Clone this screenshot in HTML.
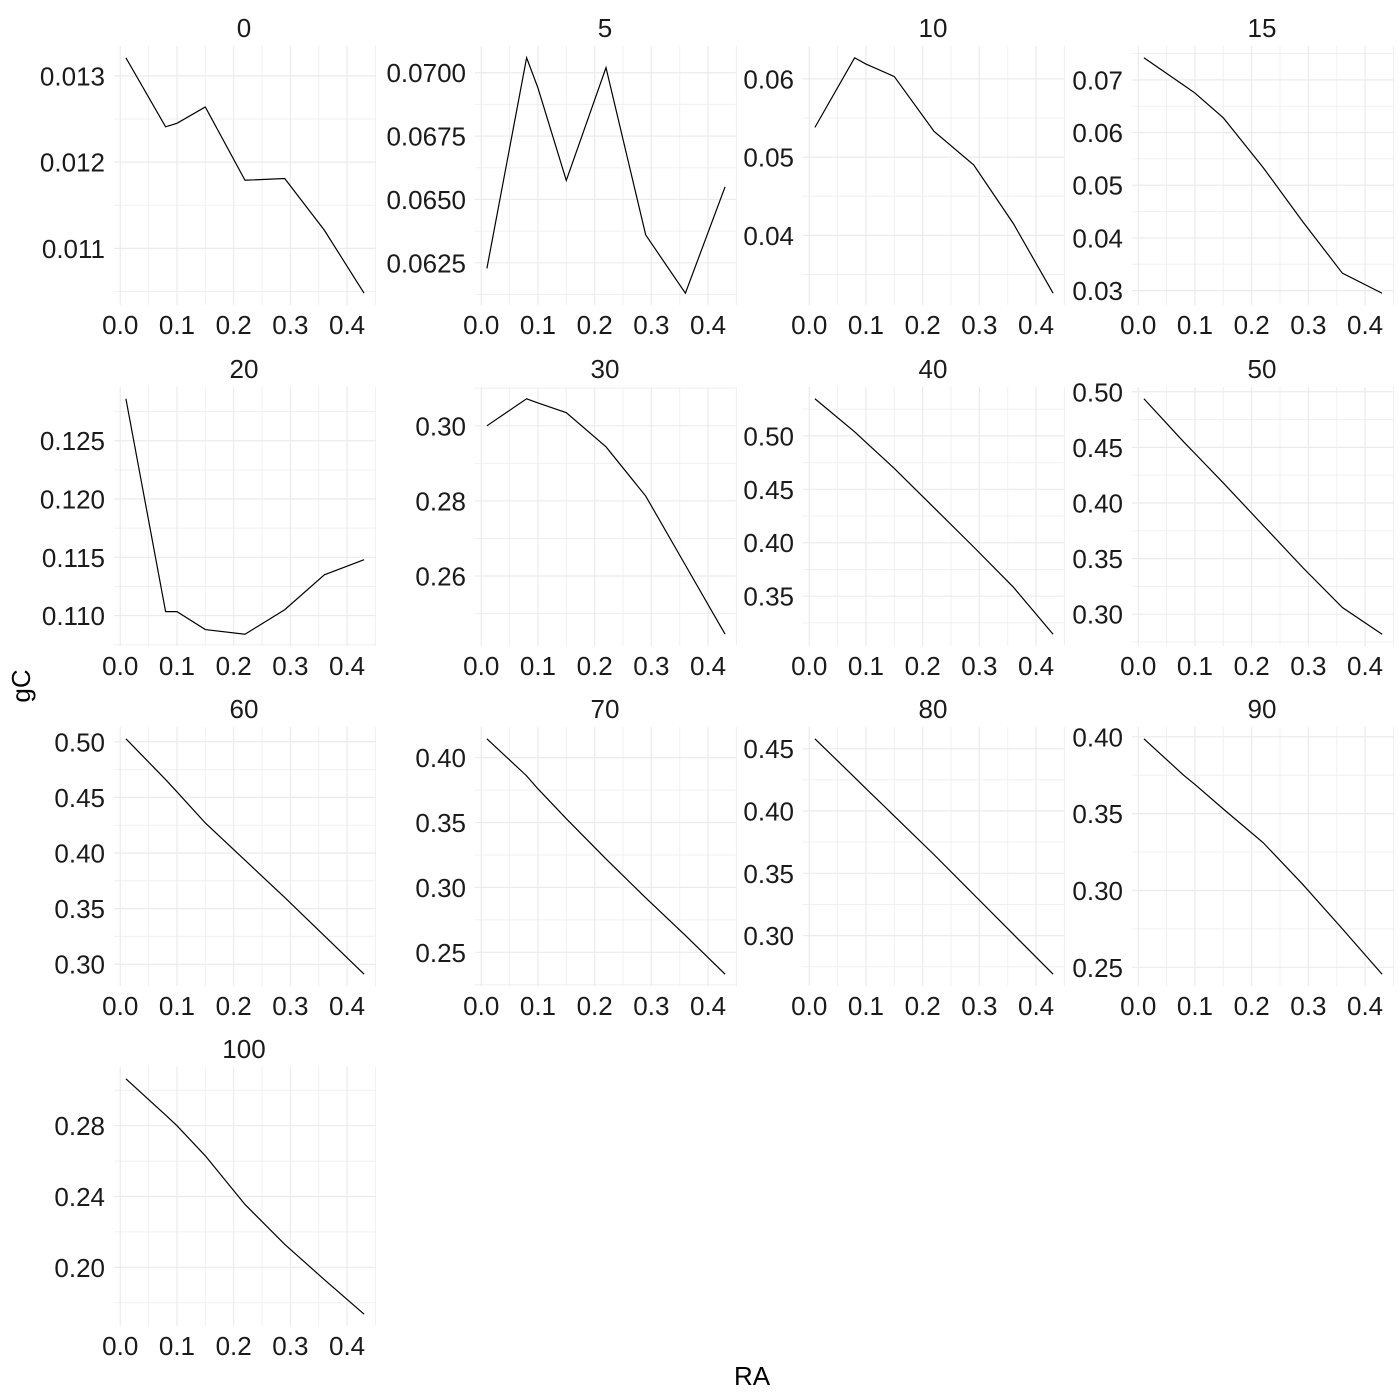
<!DOCTYPE html>
<html><head><meta charset="utf-8"><style>
body{margin:0;background:#fff}
svg{display:block;font-family:"Liberation Sans",sans-serif}
</style></head><body>
<svg id="chart" width="1400" height="1400" xmlns="http://www.w3.org/2000/svg">
<text x="752" y="1385" font-size="26" text-anchor="middle" fill="#000">RA</text>
<text transform="translate(30,686) rotate(-90)" font-size="26" text-anchor="middle" fill="#000">gC</text>
</svg>
<script>
const raValues = [0.01,0.08,0.10,0.15,0.22,0.29,0.36,0.43];
const facetLabels = ["0","5","10","15","20","30","40","50","60","70","80","90","100"];
const gc0 = [0.01321,0.01241,0.01245,0.01264,0.01179,0.01181,0.01121,0.01048];
const gc5 = [0.06228,0.07059,0.0694,0.06575,0.0702,0.0636,0.0613,0.0655];
const gc10 = [0.0538,0.0627,0.0619,0.0603,0.0533,0.0490,0.0415,0.0326];
const gc15 = [0.0742,0.0690,0.0675,0.0628,0.0534,0.0431,0.0333,0.0295];
const gc20 = [0.1286,0.11034,0.11034,0.1088,0.1084,0.1105,0.1135,0.1148];
const gc30 = [0.300,0.3072,0.3061,0.3035,0.2944,0.2813,0.2629,0.2445];
const gc40 = [0.5347,0.5038,0.494,0.4695,0.4328,0.396,0.3584,0.3144];
const gc50 = [0.4937,0.455,0.4445,0.418,0.380,0.342,0.306,0.282];
const gc60 = [0.5027,0.466,0.455,0.427,0.3935,0.360,0.3255,0.291];
const gc70 = [0.4146,0.386,0.376,0.353,0.322,0.292,0.263,0.2331];
const gc80 = [0.458,0.427,0.418,0.396,0.365,0.333,0.301,0.269];
const gc90 = [0.3987,0.375,0.369,0.353,0.3312,0.304,0.275,0.2455];
const gc100 = [0.3065,0.286,0.280,0.263,0.2355,0.213,0.193,0.1735];
const seriesList = [gc0,gc5,gc10,gc15,gc20,gc30,gc40,gc50,gc60,gc70,gc80,gc90,gc100];
const yTicks = [
 ["0.011","0.012","0.013"],
 ["0.0625","0.0650","0.0675","0.0700"],
 ["0.04","0.05","0.06"],
 ["0.03","0.04","0.05","0.06","0.07"],
 ["0.110","0.115","0.120","0.125"],
 ["0.26","0.28","0.30"],
 ["0.35","0.40","0.45","0.50"],
 ["0.30","0.35","0.40","0.45","0.50"],
 ["0.30","0.35","0.40","0.45","0.50"],
 ["0.25","0.30","0.35","0.40"],
 ["0.30","0.35","0.40","0.45"],
 ["0.25","0.30","0.35","0.40"],
 ["0.20","0.24","0.28"]
];
const xTicks = ["0.0","0.1","0.2","0.3","0.4"];

const svg = document.getElementById('chart');
const NS = "http://www.w3.org/2000/svg";
const colLeft = [114,475,803,1132];
const rowTop = [46,387,727,1067];
const PW = 262, PH = 259;
function mk(tag, attrs, parent){
  const e = document.createElementNS(NS, tag);
  for (const k in attrs) e.setAttribute(k, attrs[k]);
  parent.appendChild(e); return e;
}
const xmin = Math.min(...raValues), xmax = Math.max(...raValues);
const xpad = (xmax-xmin)*0.05;
seriesList.forEach((ys, i) => {
  const L = colLeft[i%4], T = rowTop[Math.floor(i/4)];
  const g = mk('g', {}, svg);
  
  
  const ymin = Math.min(...ys), ymax = Math.max(...ys);
  const ypad = (ymax-ymin)*0.05;
  const x0 = xmin-xpad, x1 = xmax+xpad, y0 = ymin-ypad, y1 = ymax+ypad;
  const sx = v => L + (v-x0)/(x1-x0)*PW;
  const sy = v => T + PH - (v-y0)/(y1-y0)*PH;
  const yt = yTicks[i].map(Number);
  const step = yt.length>1 ? yt[1]-yt[0] : 0.01;
  for (let k=-1;k<yt.length;k++){
    const v = yt[0]+ (k+0.5)*step;
    if (v>y0 && v<y1) mk('line',{x1:L,x2:L+PW,y1:sy(v),y2:sy(v),stroke:'#f0f0f0','stroke-width':1},g);
  }
  for (let k=0;k<=9;k++){
    const v = k*0.05;
    if (v>x0 && v<x1) mk('line',{x1:sx(v),x2:sx(v),y1:T,y2:T+PH,stroke:k%2?'#f0f0f0':'#ebebeb','stroke-width':k%2?1:1.2},g);
  }
  yt.forEach((v,k)=>{
    mk('line',{x1:L,x2:L+PW,y1:sy(v),y2:sy(v),stroke:'#ebebeb','stroke-width':1.2},g);
    const t = mk('text',{x:L-9,y:sy(v)+9.5,'font-size':26,'text-anchor':'end',fill:'#1a1a1a'},g);
    
    
    t.textContent = yTicks[i][k];
  });
  xTicks.forEach(s=>{
    const t = mk('text',{x:sx(Number(s)),y:T+PH+29,'font-size':26,'text-anchor':'middle',fill:'#1a1a1a'},g);
    
    
    t.textContent = s;
  });
  const st = mk('text',{x:L+PW/2-1,y:T-9,'font-size':26,'text-anchor':'middle',fill:'#1a1a1a'},g);
  
  
  st.textContent = facetLabels[i];
  const pts = ys.map((v,k)=>sx(raValues[k]).toFixed(2)+','+sy(v).toFixed(2)).join(' ');
  const pl = mk('polyline',{points:pts,fill:'none',stroke:'#000','stroke-width':1.2},g);
  
  
});
</script>
</body></html>
